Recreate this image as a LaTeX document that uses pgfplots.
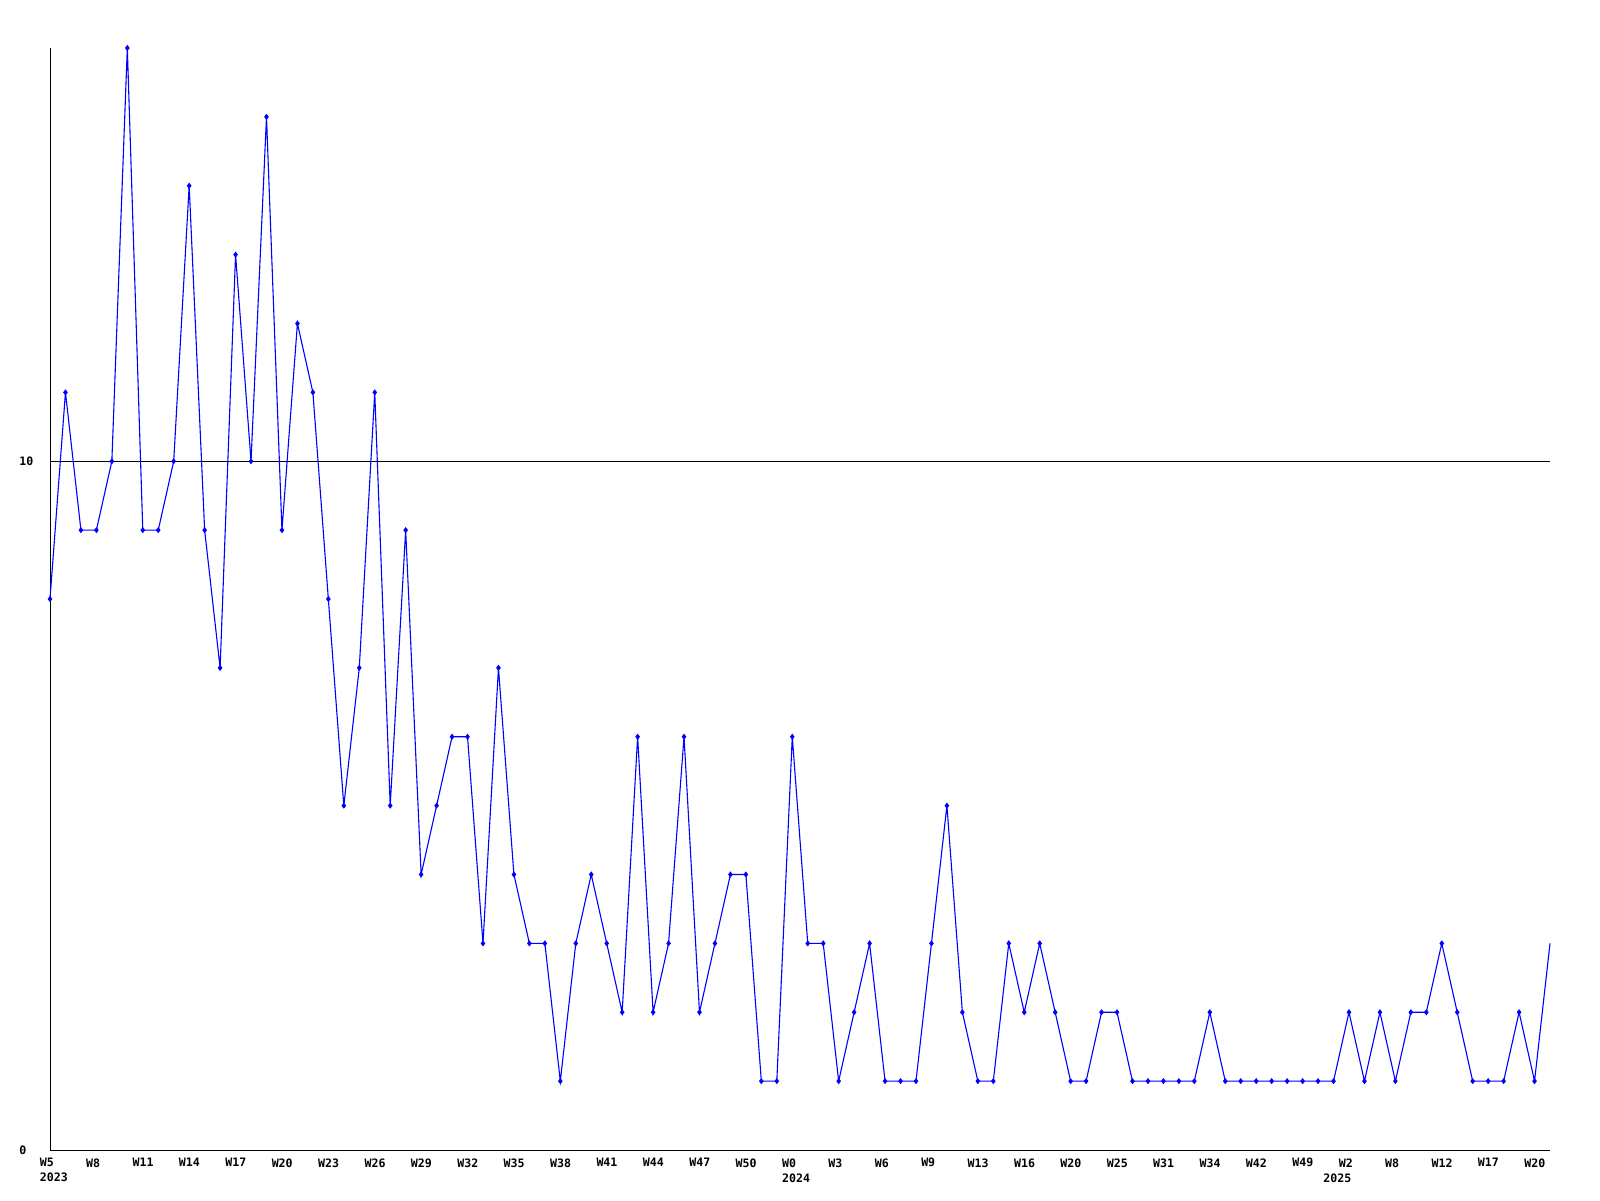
\documentclass[border=0pt]{standalone}
\usepackage{fontspec}
\usepackage{pgfplots}
\pgfplotsset{compat=1.18}
\newfontfamily\tickfont{DejaVu Sans Mono}
\newcommand\tf{\tickfont\bfseries\fontsize{5.8}{7.5}\selectfont}
\begin{document}
\begin{tikzpicture}
\useasboundingbox (0,0) rectangle (800pt,600pt);
\begin{axis}[
  at={(25pt,25pt)}, anchor=south west,
  scale only axis, width=750pt, height=551pt,
  xmin=0, xmax=97, ymin=0, ymax=16,
  axis lines*=left,
  axis line style={-, black, line width=0.5pt},
  clip=false,
  major tick length=0pt,
  ytick={0,10}, yticklabels={0,10},
  ymajorgrids, grid style={black, line width=0.5pt},
  xtick={0,3,...,96},
  xticklabels={{W5\\2023},W8,W11,W14,W17,W20,W23,W26,W29,W32,W35,W38,W41,W44,W47,W50,{W0\\2024},W3,W6,W9,W13,W16,W20,W25,W31,W34,W42,W49,{W2\\\hspace*{-7.7pt}2025},W8,W12,W17,W20},
  xticklabel style={font=\tf, anchor=north west, inner sep=0pt, align=left, yshift=-4pt, xshift=-5.3pt},
  yticklabel style={font=\tf, anchor=west, inner sep=0pt, xshift=-15.5pt},
]
\addplot[color={rgb,255:red,0;green,0;blue,255}, line width=0.55pt, mark=diamond*, mark size=1.1pt, mark indices={1,...,97}] coordinates {
(0,8)(1,11)(2,9)(3,9)(4,10)(5,16)(6,9)(7,9)(8,10)(9,14)
(10,9)(11,7)(12,13)(13,10)(14,15)(15,9)(16,12)(17,11)(18,8)(19,5)
(20,7)(21,11)(22,5)(23,9)(24,4)(25,5)(26,6)(27,6)(28,3)(29,7)
(30,4)(31,3)(32,3)(33,1)(34,3)(35,4)(36,3)(37,2)(38,6)(39,2)
(40,3)(41,6)(42,2)(43,3)(44,4)(45,4)(46,1)(47,1)(48,6)(49,3)
(50,3)(51,1)(52,2)(53,3)(54,1)(55,1)(56,1)(57,3)(58,5)(59,2)
(60,1)(61,1)(62,3)(63,2)(64,3)(65,2)(66,1)(67,1)(68,2)(69,2)
(70,1)(71,1)(72,1)(73,1)(74,1)(75,2)(76,1)(77,1)(78,1)(79,1)
(80,1)(81,1)(82,1)(83,1)(84,2)(85,1)(86,2)(87,1)(88,2)(89,2)
(90,3)(91,2)(92,1)(93,1)(94,1)(95,2)(96,1)(97,3)
};
\end{axis}
\end{tikzpicture}
\end{document}
